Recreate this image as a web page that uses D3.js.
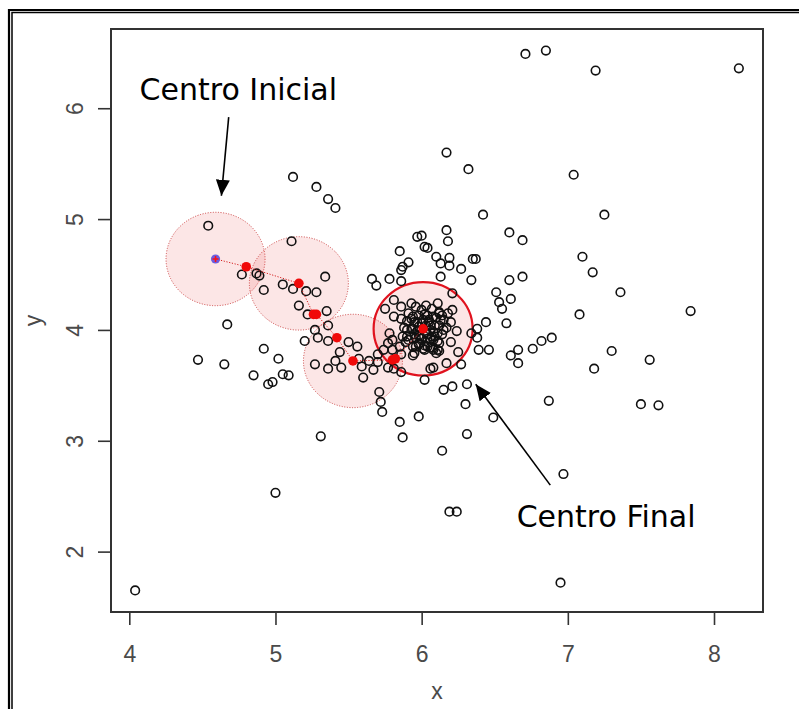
<!DOCTYPE html>
<html lang="es">
<head>
  <meta charset="UTF-8">
  <script src="https://d3js.org/d3.v7.min.js"></script>
  <title>Mean shift</title>
  <style>
    body { margin: 0; background: #fff; }
    .axis text { font-family: "Liberation Sans", Arial, sans-serif; font-size: 23px; fill: #4a4a4a; }
    .axis line { stroke: #333; stroke-width: 1.6px; }
    .axis-title { font-family: "Liberation Sans", Arial, sans-serif; font-size: 23px; fill: #4a4a4a; }
    .pts circle { fill: none; stroke: #111; stroke-width: 1.6px; }
    .note { font-family: "DejaVu Sans", Verdana, sans-serif; font-size: 30px; fill: #000; }
  </style>
</head>
<body>
  <svg></svg>
  <script>
    const WIDTH = 799
    const HEIGHT = 709

    // datos
    const points = [
      [5.12,5.38],[5.28,5.29],[5.36,5.18],[5.41,5.10],[4.54,4.94],[5.11,4.80],[4.77,4.50],[4.87,4.51],
      [4.89,4.49],[4.92,4.36],[5.05,4.41],[5.12,4.37],[5.21,4.35],[5.28,4.34],[5.34,4.48],[5.16,4.22],
      [5.22,4.14],[5.35,4.17],[4.67,4.05],[5.27,4.00],[5.36,4.04],[5.20,3.90],[5.29,3.93],[5.36,3.90],
      [5.50,3.89],[5.56,3.85],[4.92,3.83],[4.47,3.73],[4.65,3.69],[5.02,3.74],[4.85,3.59],[4.95,3.51],
      [4.98,3.53],[5.05,3.60],[5.09,3.59],[5.27,3.69],[5.36,3.65],[5.44,3.80],[5.41,3.72],[5.45,3.66],
      [5.57,3.74],[5.59,3.67],[5.64,3.72],[5.67,3.64],[5.70,3.78],[5.70,3.71],[5.60,3.57],[5.77,3.66],
      [5.77,3.88],[5.80,3.82],[5.86,3.78],[5.86,3.62],[5.71,3.44],[5.72,3.35],[5.73,3.26],[5.85,3.17],
      [5.98,3.22],[5.87,3.03],[5.31,3.04],[5.00,2.53],[4.04,1.65],
      [5.66,4.46],[5.69,4.40],[5.78,4.46],[5.86,4.44],[5.85,4.71],[5.86,4.54],[5.87,4.57],[5.91,4.61],
      [5.81,4.27],[5.75,4.19],[5.81,4.12],[5.86,4.21],[5.93,4.24],[6.03,4.22],[6.11,4.24],[5.78,3.97],
      [5.74,3.82],[5.85,3.85],[5.87,3.94],[5.90,4.00],[5.95,3.79],[5.81,3.65],
      [6.13,4.48],[6.10,4.66],[6.13,4.60],[6.19,4.65],[6.19,4.58],[6.27,4.55],[6.35,4.64],[6.37,4.64],
      [6.34,4.45],[6.17,5.60],[6.32,5.45],[6.42,5.04],[6.17,4.90],[6.18,4.80],[5.97,4.84],[6.00,4.85],
      [6.02,4.75],[6.04,4.74],[6.60,4.88],[6.69,4.81],[6.60,4.45],[6.69,4.48],[6.71,6.49],[6.85,6.52],
      [7.19,6.34],[8.17,6.36],[7.04,5.40],[7.25,5.04],[7.10,4.66],[7.17,4.52],[7.36,4.34],[7.84,4.17],
      [6.51,4.34],[6.53,4.25],[6.55,4.19],[6.61,4.28],[7.08,4.14],[6.44,4.07],[6.58,4.06],[6.38,4.01],
      [6.38,3.93],[6.39,3.82],[6.46,3.82],[6.61,3.77],[6.66,3.82],[6.66,3.70],[6.76,3.83],[6.82,3.90],
      [6.89,3.93],[7.30,3.81],[7.18,3.65],[7.56,3.73],[6.21,4.33],[6.21,4.18],[6.20,4.07],[6.24,3.99],
      [6.34,3.97],[6.25,3.80],[6.27,3.69],[6.17,3.70],[6.06,3.65],[6.08,3.66],[6.02,3.55],[6.15,3.46],
      [6.21,3.49],[6.31,3.51],[6.30,3.33],[6.49,3.21],[6.87,3.36],[7.50,3.33],[7.62,3.32],[6.31,3.06],
      [6.14,2.91],[6.97,2.70],[6.19,2.36],[6.24,2.36],[6.95,1.72],[6.08,3.82],[6.14,4.13],
      [5.96,4.21],[6.00,4.18],[6.07,4.19],[6.12,4.16],[6.18,4.15],[5.91,4.15],[5.98,4.13],[6.04,4.13],
      [6.10,4.11],[6.15,4.09],[5.86,4.10],[5.90,4.08],[5.95,4.07],[6.00,4.06],[6.06,4.04],[6.12,4.04],
      [6.17,4.02],[5.88,4.02],[5.93,4.01],[5.97,3.99],[6.03,3.98],[6.08,3.98],[6.14,3.96],[5.90,3.94],
      [5.96,3.93],[6.00,3.92],[6.06,3.92],[6.11,3.90],[5.98,3.87],[6.04,3.85],[6.08,3.84],[6.12,3.81],
      [6.02,3.82],[5.94,3.85],[6.20,3.89],[5.89,3.89],[6.10,3.79],[6.03,4.04],[5.98,3.95],[6.07,3.94],
      [5.94,4.12],[6.05,4.09],
      [5.97,4.07],[6.01,4.09],[6.05,4.07],[6.09,4.04],[5.94,4.01],[5.98,4.03],[6.06,4.00],[6.11,3.97],
      [5.95,3.96],[5.99,3.94],[6.04,3.92],[6.08,3.91],[5.98,3.88],[6.02,3.86],[6.06,3.84],[6.12,3.88],
      [5.93,4.10],[6.02,4.14],[6.08,4.12],[6.13,4.09],[5.91,3.91],[6.04,3.96],[5.97,3.99],[6.09,3.94],
      [6.01,3.83],[5.96,3.85],[6.15,4.00],[6.12,4.15],[6.11,3.82],[5.94,3.77],[5.80,3.91]
    ]

    // trayectoria del centro (mean shift)
    const centerPath = [
      [4.59,4.64],[4.80,4.57],[5.16,4.42],[5.26,4.14],[5.28,4.14],
      [5.42,3.93],[5.53,3.72],[5.80,3.73],[5.82,3.74],[6.01,4.01]
    ]
    const windows = [[4.59,4.64],[5.16,4.42],[5.53,3.72]]
    const startCenter = [4.59,4.64]
    const finalCenter = [6.01,4.01]

    const xTicks = [4, 5, 6, 7, 8]
    const yTicks = [2, 3, 4, 5, 6]

    const notes = [
      {text: 'Centro Inicial', tx: 4.07, ty: 6.07, from: [4.68,5.92], to: [4.63,5.21]},
      {text: 'Centro Final', tx: 6.65, ty: 2.22, from: [6.88,2.60], to: [6.37,3.51]}
    ]

    const svg = d3.select('svg')
      .attr('width', WIDTH)
      .attr('height', HEIGHT)

    // marco doble (solo arriba e izquierda)
    svg.append('path').attr('d', `M9,${HEIGHT} V10 H${WIDTH}`)
      .attr('fill', 'none').attr('stroke', '#000').attr('stroke-width', 2.2)
    svg.append('path').attr('d', `M12,${HEIGHT} V12.6 H${WIDTH}`)
      .attr('fill', 'none').attr('stroke', '#000').attr('stroke-width', 1.5)

    // escala estilo R (4% extra)
    const xExt = d3.extent(points, d => d[0])
    const yExt = d3.extent(points, d => d[1])
    const padX = (xExt[1] - xExt[0]) * 0.04
    const padY = (yExt[1] - yExt[0]) * 0.04

    const plotL = 111, plotR = 763, plotT = 29, plotB = 612
    const x = d3.scaleLinear().domain([xExt[0] - padX, xExt[1] + padX]).range([plotL, plotR])
    const y = d3.scaleLinear().domain([yExt[0] - padY, yExt[1] + padY]).range([plotB, plotT])

    // ventanas
    const rx = 49.5, ry = 46.7
    svg.append('g').selectAll('ellipse')
      .data(windows)
      .enter().append('ellipse')
      .attr('cx', d => x(d[0]))
      .attr('cy', d => y(d[1]))
      .attr('rx', rx).attr('ry', ry)
      .attr('fill', 'rgba(228,60,60,0.13)')
      .attr('stroke', '#cc4444')
      .attr('stroke-width', 1)
      .attr('stroke-dasharray', '1,1.6')

    svg.append('ellipse')
      .attr('cx', x(finalCenter[0]))
      .attr('cy', y(finalCenter[1]))
      .attr('rx', rx).attr('ry', ry)
      .attr('fill', 'rgba(228,60,60,0.13)')
      .attr('stroke', '#e0121e')
      .attr('stroke-width', 2.2)

    // puntos
    svg.append('g')
      .attr('class', 'pts')
      .selectAll('circle')
      .data(points)
      .enter().append('circle')
      .attr('cx', d => x(d[0]))
      .attr('cy', d => y(d[1]))
      .attr('r', 4.3)

    // trayectoria
    svg.append('path')
      .datum(centerPath)
      .attr('d', d3.line().x(d => x(d[0])).y(d => y(d[1])))
      .attr('fill', 'none')
      .attr('stroke', '#d42020')
      .attr('stroke-width', 1)
      .attr('stroke-dasharray', '1.2,1.6')

    svg.append('g').selectAll('circle')
      .data(centerPath.slice(1))
      .enter().append('circle')
      .attr('cx', d => x(d[0]))
      .attr('cy', d => y(d[1]))
      .attr('r', 4.8)
      .attr('fill', '#f00a0a')

    svg.append('circle')
      .attr('cx', x(startCenter[0]))
      .attr('cy', y(startCenter[1]))
      .attr('r', 4.6)
      .attr('fill', '#6c5ce0')
    svg.append('path')
      .attr('d', `M${x(startCenter[0]) - 3},${y(startCenter[1])} h6 M${x(startCenter[0])},${y(startCenter[1]) - 3} v6`)
      .attr('stroke', '#ff1010')
      .attr('stroke-width', 1.6)

    // ejes
    const fmt = d3.format('d')
    const xAxis = d3.axisBottom(x).tickValues(xTicks).tickFormat(fmt).tickSize(13).tickPadding(21)
    const yAxis = d3.axisLeft(y).tickValues(yTicks).tickFormat(fmt).tickSize(13)

    const gx = svg.append('g')
      .attr('class', 'axis')
      .attr('transform', `translate(0,${plotB})`)
      .call(xAxis)
    gx.select('.domain').remove()
    gx.selectAll('text').attr('font-family', null).attr('font-size', null).attr('fill', null)

    const gy = svg.append('g')
      .attr('class', 'axis')
      .attr('transform', `translate(${plotL},0)`)
      .call(yAxis)
    gy.select('.domain').remove()
    gy.selectAll('text')
      .attr('font-family', null).attr('font-size', null).attr('fill', null)
      .attr('x', null).attr('dy', null)
      .attr('text-anchor', 'middle')
      .attr('transform', 'translate(-28,0) rotate(-90)')

    svg.append('rect')
      .attr('x', plotL).attr('y', plotT)
      .attr('width', plotR - plotL).attr('height', plotB - plotT)
      .attr('fill', 'none')
      .attr('stroke', '#333')
      .attr('stroke-width', 2)

    svg.append('text')
      .attr('class', 'axis-title')
      .attr('x', (plotL + plotR) / 2)
      .attr('y', 699)
      .attr('text-anchor', 'middle')
      .text('x')

    svg.append('text')
      .attr('class', 'axis-title')
      .attr('text-anchor', 'middle')
      .attr('transform', `translate(41,${(plotT + plotB) / 2}) rotate(-90)`)
      .text('y')

    // anotaciones
    svg.append('defs').append('marker')
      .attr('id', 'head')
      .attr('markerUnits', 'userSpaceOnUse')
      .attr('markerWidth', 17).attr('markerHeight', 14)
      .attr('refX', 16).attr('refY', 7)
      .attr('orient', 'auto')
      .append('path')
      .attr('d', 'M0,0 L16,7 L0,14 Z')
      .attr('fill', '#000')

    const note = svg.append('g').selectAll('g')
      .data(notes)
      .enter().append('g')

    note.append('line')
      .attr('x1', d => x(d.from[0])).attr('y1', d => y(d.from[1]))
      .attr('x2', d => x(d.to[0])).attr('y2', d => y(d.to[1]))
      .attr('stroke', '#000')
      .attr('stroke-width', 1.6)
      .attr('marker-end', 'url(#head)')

    note.append('text')
      .attr('class', 'note')
      .attr('x', d => x(d.tx))
      .attr('y', d => y(d.ty))
      .text(d => d.text)
  </script>
</body>
</html>
